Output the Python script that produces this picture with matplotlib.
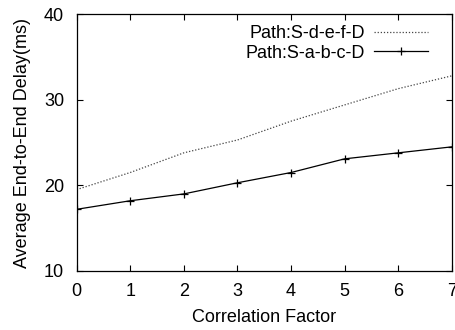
import matplotlib
matplotlib.use("Agg")
import matplotlib.pyplot as plt

plt.rcParams['font.family'] = ['Liberation Sans', 'DejaVu Sans']

correlation = [0, 1, 2, 3, 4, 5, 6, 7]
delay_sdefd = [19.5, 21.5, 23.8, 25.3, 27.5, 29.4, 31.3, 32.8]
delay_sabcd = [17.2, 18.2, 19.0, 20.3, 21.5, 23.1, 23.8, 24.5]

fig = plt.figure(figsize=(4.56, 3.30), dpi=100, facecolor='white')
ax = fig.add_axes([0.168, 0.179, 0.823, 0.778])

ax.plot(correlation, delay_sdefd, linestyle=(0, (1, 1.5)), color='#444444',
        linewidth=0.9, label='Path:S-d-e-f-D')
ax.plot(correlation, delay_sabcd, linestyle='-', color='black', linewidth=0.9,
        marker='+', markersize=6, markeredgewidth=0.9, label='Path:S-a-b-c-D')

ax.set_xlim(0, 7)
ax.set_ylim(10, 40)
ax.set_xticks(range(0, 8))
ax.set_yticks([10, 20, 30, 40])
ax.tick_params(direction='in', length=4.5, width=0.8, top=True, right=True,
               labelsize=13)
ax.tick_params(axis='x', pad=9)
ax.tick_params(axis='y', pad=9)
for s in ax.spines.values():
    s.set_linewidth(0.9)

ax.set_xlabel('Correlation Factor', fontsize=13, labelpad=6)
ax.set_ylabel('Average End-to-End Delay(ms)', fontsize=13, labelpad=9)

ax.legend(loc='upper right', frameon=False, markerfirst=False, fontsize=13,
          handlelength=3.0, handletextpad=0.5, labelspacing=0.15,
          borderaxespad=0.2, bbox_to_anchor=(0.965, 1.0))

fig.savefig('out.png', dpi=100, facecolor='white')
